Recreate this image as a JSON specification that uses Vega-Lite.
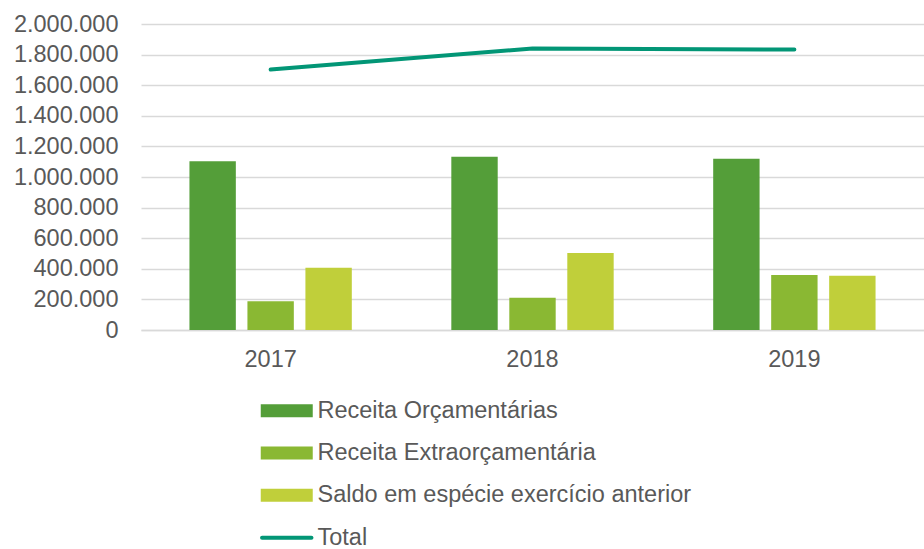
{
  "$schema": "https://vega.github.io/schema/vega-lite/v6.json",
  "autosize": "none",
  "padding": {"left": 141, "top": 24, "right": 0, "bottom": 219},
  "width": 783,
  "height": 306,
  "background": "white",
  "config": {
    "view": {"stroke": null},
    "font": "Liberation Sans",
    "axis": {"labelFont": "Liberation Sans", "labelColor": "#595959", "labelFontSize": 23.5}
  },
  "data": {"values": [
    {"year": "2017", "series": "Receita Orçamentárias", "value": 1103000},
    {"year": "2017", "series": "Receita Extraorçamentária", "value": 188000},
    {"year": "2017", "series": "Saldo em espécie exercício anterior", "value": 407000},
    {"year": "2017", "series": "Total", "value": 1702000},
    {"year": "2018", "series": "Receita Orçamentárias", "value": 1132000},
    {"year": "2018", "series": "Receita Extraorçamentária", "value": 210000},
    {"year": "2018", "series": "Saldo em espécie exercício anterior", "value": 503000},
    {"year": "2018", "series": "Total", "value": 1840000},
    {"year": "2019", "series": "Receita Orçamentárias", "value": 1119000},
    {"year": "2019", "series": "Receita Extraorçamentária", "value": 359000},
    {"year": "2019", "series": "Saldo em espécie exercício anterior", "value": 354000},
    {"year": "2019", "series": "Total", "value": 1833000}
  ]},
  "encoding": {
    "x": {
      "field": "year", "type": "nominal",
      "scale": {"paddingInner": 0.38, "paddingOuter": 0.185},
      "axis": {"title": null, "labelAngle": 0, "ticks": false, "labelPadding": 17, "domainColor": "#D9D9D9", "domainWidth": 1.5, "grid": false}
    },
    "y": {
      "field": "value", "type": "quantitative",
      "scale": {"domain": [0, 2000000], "nice": false},
      "axis": {"title": null, "values": [0, 200000, 400000, 600000, 800000, 1000000, 1200000, 1400000, 1600000, 1800000, 2000000],
        "labelExpr": "replace(format(datum.value, ',d'), /,/g, '.')",
        "ticks": false, "domain": false, "labelPadding": 23, "gridColor": "#D9D9D9", "gridWidth": 1.5}
    }
  },
  "layer": [
    {
      "transform": [{"filter": "datum.series !== 'Total'"}],
      "mark": {"type": "bar"},
      "encoding": {
        "xOffset": {"field": "series", "type": "nominal",
          "scale": {"domain": ["Receita Orçamentárias", "Receita Extraorçamentária", "Saldo em espécie exercício anterior"], "paddingInner": 0.2, "paddingOuter": 0}},
        "color": {
          "field": "series", "type": "nominal",
          "scale": {
            "domain": ["Receita Orçamentárias", "Receita Extraorçamentária", "Saldo em espécie exercício anterior", "Total"],
            "range": ["#549E39", "#8AB833", "#C0CF3A", "#029676"]
          },
          "legend": {
            "title": null,
            "orient": "none",
            "legendX": 134,
            "legendY": 375,
            "direction": "vertical",
            "padding": 0,
            "rowPadding": 17.3,
            "labelFont": "Liberation Sans",
            "labelFontSize": 23.5,
            "labelColor": "#595959",
            "labelOffset": 19,
            "labelLimit": 500,
            "symbolSize": 676,
            "encode": {
              "symbols": {
                "update": {
                  "shape": {"signal": "datum.value === 'Total' ? 'M-1.9,0H1.9' : 'M-2,-0.5H2V0.5H-2Z'"},
                  "fill": {"signal": "datum.value === 'Total' ? 'transparent' : (datum.value === 'Receita Orçamentárias' ? '#549E39' : (datum.value === 'Receita Extraorçamentária' ? '#8AB833' : '#C0CF3A'))"},
                  "stroke": {"signal": "datum.value === 'Total' ? '#029676' : 'transparent'"},
                  "strokeWidth": {"signal": "datum.value === 'Total' ? 4 : 0"},
                  "strokeCap": {"value": "round"},
                  "opacity": {"value": 1}
                }
              }
            }
          }
        }
      }
    },
    {
      "transform": [{"filter": "datum.series === 'Total'"}],
      "mark": {"type": "line", "color": "#029676", "strokeWidth": 4, "strokeCap": "round"},
      "encoding": {}
    }
  ]
}
